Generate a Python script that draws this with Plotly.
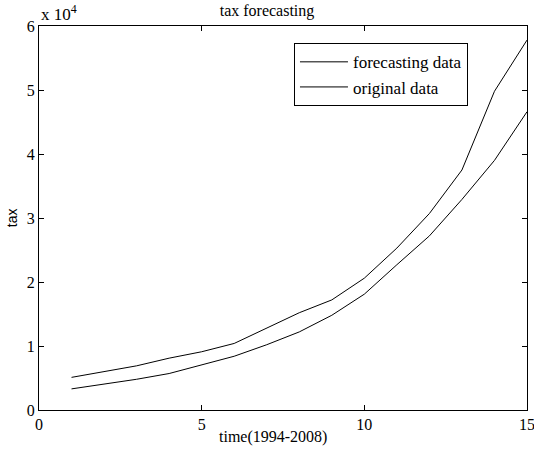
import plotly.graph_objects as go

years = list(range(1, 16))
forecasting = [3300, 4000, 4800, 5700, 7100, 8400, 10200, 12200, 14800, 18100, 22700, 27200, 32900, 39000, 46600]
original = [5100, 6000, 6900, 8100, 9100, 10400, 12800, 15200, 17200, 20600, 25300, 30700, 37500, 49800, 57800]

serif = "Liberation Serif, Times New Roman, serif"

fig = go.Figure()
fig.add_trace(go.Scatter(x=years, y=forecasting, mode="lines", name="forecasting data",
                         line=dict(color="black", width=1)))
fig.add_trace(go.Scatter(x=years, y=original, mode="lines", name="original data",
                         line=dict(color="black", width=1)))

axis_common = dict(showgrid=False, zeroline=False, showline=True, linecolor="black",
                   linewidth=1, mirror="ticks", ticks="inside", ticklen=5,
                   tickcolor="black", automargin=False, ticklabeloverflow="allow",
                   tickfont=dict(family=serif, size=16, color="black"))

fig.update_layout(
    width=534, height=454,
    margin=dict(l=39, r=7, t=26, b=44),
    paper_bgcolor="white", plot_bgcolor="white",
    title=dict(text="tax forecasting", x=0.5, xanchor="center", y=0.99, yanchor="top",
               font=dict(family=serif, size=16, color="black")),
    xaxis=dict(range=[0, 15], tickvals=[0, 5, 10, 15], ticktext=["0", "5", "10", "15"],
               **axis_common),
    yaxis=dict(range=[0, 60000], tickvals=[0, 10000, 20000, 30000, 40000, 50000, 60000],
               ticktext=["0", "1", "2", "3", "4", "5", "6"],
               **axis_common),
    legend=dict(x=0.5225, y=0.955, xanchor="left", yanchor="top",
                bgcolor="white", bordercolor="black", borderwidth=1,
                font=dict(family=serif, size=17, color="black"),
                tracegroupgap=0, itemwidth=48),
    showlegend=True,
)

fig.add_annotation(text="x 10<sup>4</sup>", xref="paper", yref="paper", x=0.0, y=1.0,
                   xanchor="left", yanchor="bottom", showarrow=False, yshift=0,
                   font=dict(family=serif, size=17, color="black"))
fig.add_annotation(text="time(1994-2008)", xref="paper", yref="paper", x=0.48, y=-0.07,
                   xanchor="center", yanchor="middle", showarrow=False,
                   font=dict(family=serif, size=16, color="black"))
fig.add_annotation(text="tax", xref="paper", yref="paper", x=-0.055, y=0.5,
                   xanchor="center", yanchor="middle", showarrow=False, textangle=-90,
                   font=dict(family="Liberation Sans, Arial, sans-serif", size=14, color="black"))

fig.write_html("out.html", config={"displayModeBar": False},
               post_script="document.body.style.margin='0';document.body.style.overflow='hidden';")
